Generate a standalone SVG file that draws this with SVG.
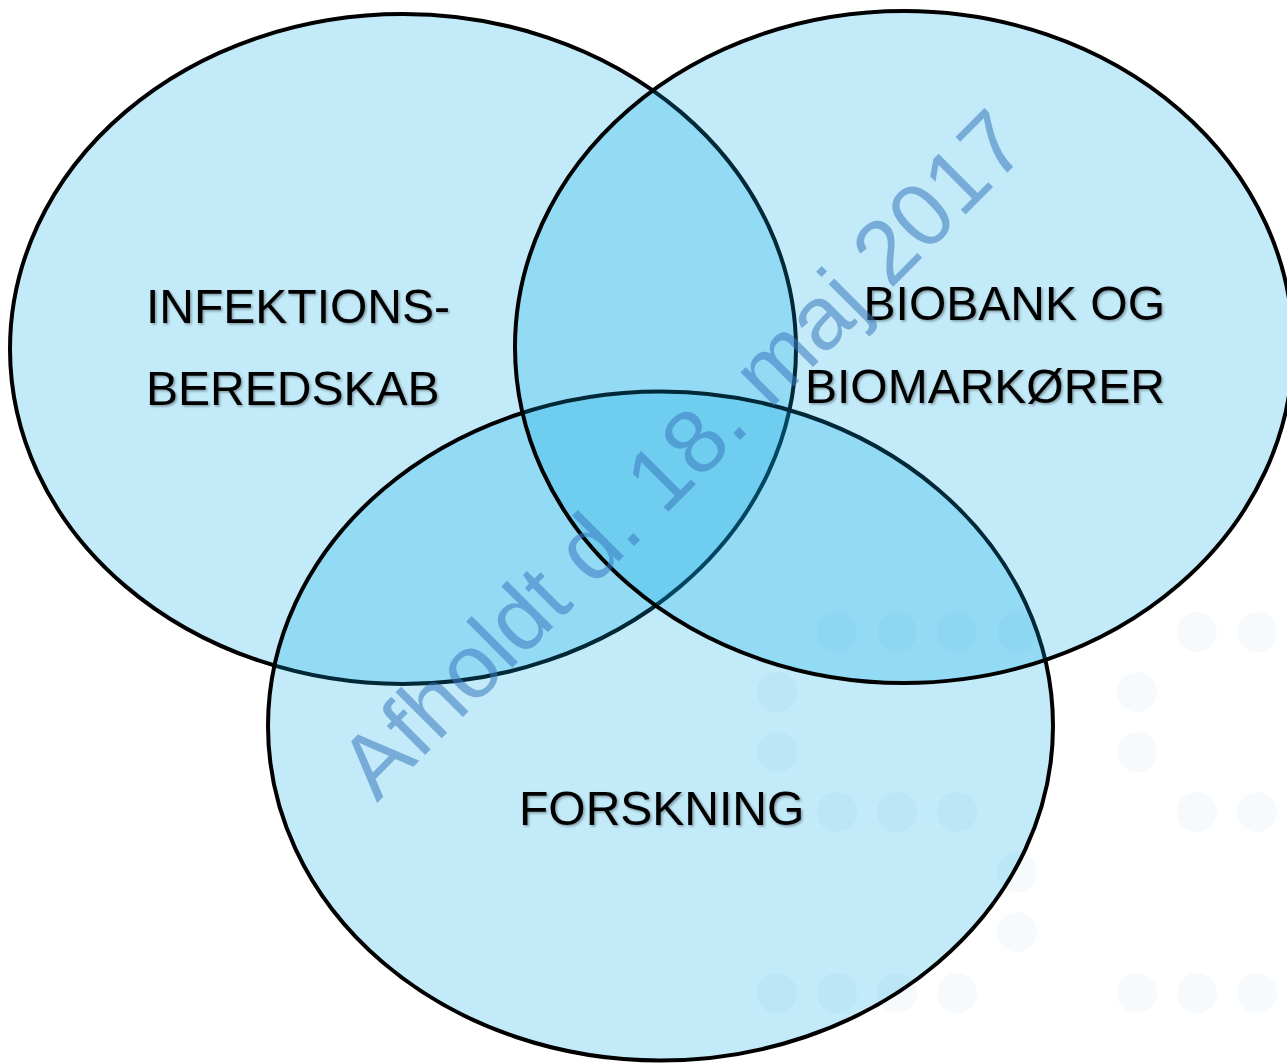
<svg xmlns="http://www.w3.org/2000/svg" width="1287" height="1063" viewBox="0 0 1287 1063">
  <defs>
    <filter id="shadow" x="-5%" y="-20%" width="110%" height="140%">
      <feDropShadow dx="1.5" dy="1.5" stdDeviation="1" flood-color="#000" flood-opacity="0.35"/>
    </filter>
  </defs>
  <style>
    .set { fill: #00A7E6; fill-opacity: 0.24; stroke: #000; stroke-width: 4; }
    .lbl { font-family: "Liberation Sans", Arial, sans-serif; font-size: 48px; fill: #000; filter: url(#shadow); }
    .dot { fill: #F6FAFC; }
    .wm { font-family: "Liberation Sans", Arial, sans-serif; font-size: 90px; fill: #3A78C0; fill-opacity: 0.55; }
  </style>
  <rect width="1287" height="1063" fill="#FFFFFF"/>
  <g id="dots">
    <circle class="dot" cx="837" cy="632" r="20"/>
    <circle class="dot" cx="897" cy="632" r="20"/>
    <circle class="dot" cx="957" cy="632" r="20"/>
    <circle class="dot" cx="1017" cy="632" r="20"/>
    <circle class="dot" cx="1197" cy="632" r="20"/>
    <circle class="dot" cx="1257" cy="632" r="20"/>
    <circle class="dot" cx="777" cy="692" r="20"/>
    <circle class="dot" cx="1137" cy="692" r="20"/>
    <circle class="dot" cx="777" cy="752" r="20"/>
    <circle class="dot" cx="1137" cy="752" r="20"/>
    <circle class="dot" cx="837" cy="812" r="20"/>
    <circle class="dot" cx="897" cy="812" r="20"/>
    <circle class="dot" cx="957" cy="812" r="20"/>
    <circle class="dot" cx="1197" cy="812" r="20"/>
    <circle class="dot" cx="1257" cy="812" r="20"/>
    <circle class="dot" cx="1017" cy="872" r="20"/>
    <circle class="dot" cx="1017" cy="932" r="20"/>
    <circle class="dot" cx="777" cy="993" r="20"/>
    <circle class="dot" cx="837" cy="993" r="20"/>
    <circle class="dot" cx="897" cy="993" r="20"/>
    <circle class="dot" cx="957" cy="993" r="20"/>
    <circle class="dot" cx="1137" cy="993" r="20"/>
    <circle class="dot" cx="1197" cy="993" r="20"/>
    <circle class="dot" cx="1257" cy="993" r="20"/>
  </g>
  <g id="infektion">
    <ellipse class="set" cx="403" cy="349" rx="393" ry="335"/>
  </g>
  <g id="forskning">
    <ellipse class="set" cx="660.5" cy="726" rx="392.5" ry="334.5"/>
  </g>
  <g id="biobank">
    <ellipse class="set" cx="904" cy="347" rx="389" ry="336"/>
  </g>
  <g id="connectors"></g>
  <g id="labels">
    <text class="lbl" x="146" y="323">INFEKTIONS-</text>
    <text class="lbl" x="146" y="405">BEREDSKAB</text>
    <text class="lbl" x="1165" y="320" text-anchor="end">BIOBANK OG</text>
    <text class="lbl" x="1165" y="403" text-anchor="end">BIOMARKØRER</text>
    <text class="lbl" x="519" y="825">FORSKNING</text>
  </g>
  <g id="watermark">
    <text class="wm" transform="translate(377,803) rotate(-45)">Afholdt d. 18. maj 2017</text>
  </g>
</svg>
